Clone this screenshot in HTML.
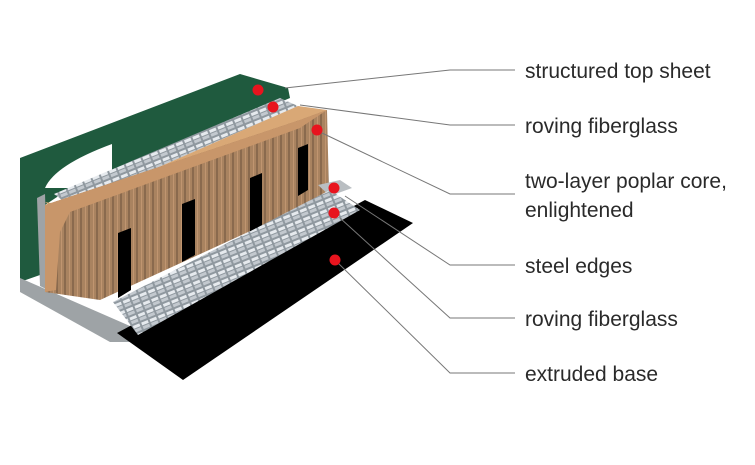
<!DOCTYPE html>
<html><head><meta charset="utf-8"><style>
html,body{margin:0;padding:0;background:#fff;}
svg{display:block}
text{font-family:"Liberation Sans Narrow","Liberation Sans",sans-serif;font-size:21px;fill:#2a2a2a}
</style></head><body>
<svg width="755" height="465" viewBox="0 0 755 465" xmlns="http://www.w3.org/2000/svg">
<defs>
<pattern id="glass" width="9" height="9" patternUnits="userSpaceOnUse" patternTransform="rotate(-22)">
<rect width="9" height="9" fill="#8f989f"/>
<rect x="1" y="1" width="7" height="3" fill="#e6eaee"/>
<rect x="1" y="5" width="7" height="3" fill="#c3c9cf"/>
</pattern>
<pattern id="wood" width="8" height="20" patternUnits="userSpaceOnUse">
<rect width="8" height="20" fill="#a98360"/>
<rect x="0" width="2" height="20" fill="#8a6a4e"/>
<rect x="5" width="1" height="20" fill="#c09570"/>
</pattern>
</defs>
<polygon points="20,158 240,74 288,88 290,98 60,195 45,205 40,275 20,282" fill="#1f5a3e"/>
<path d="M45,188 Q55,165 112,144 L112,178 L90,188 Z" fill="#fff"/>
<polygon points="20,278 130,326 130,342 110,342 20,292" fill="#9ea3a6"/>
<polygon points="37,198 45,194 48,290 40,286" fill="#9ea3a6"/>
<polygon points="117,333 365,200 413,223 183,380" fill="#000"/>
<polygon points="54,194 280,98 298,106 70,206" fill="url(#glass)"/>
<polygon points="45,202 70,206 298,106 327,110 300,122 62,214" fill="#d9a876"/>
<polygon points="45,205 300,120 327,110 329,195 100,300 45,292" fill="url(#wood)"/>
<polygon points="45,205 300,120 327,110 300,128 70,212 60,232 56,290 45,292" fill="#c8966a"/>
<polygon points="118,233 131,228 131,290 118,298" fill="#000"/>
<polygon points="182,204 195,199 195,255 182,262" fill="#000"/>
<polygon points="250,178 262,173 262,230 250,236" fill="#000"/>
<polygon points="298,148 308,144 308,190 298,196" fill="#000"/>
<polygon points="318,185 340,180 352,188 330,196" fill="#b9bec2"/>
<polygon points="113,302 330,190 360,210 138,335" fill="url(#glass)"/>
<g stroke="#777" stroke-width="1" fill="none">
<polyline points="285,88 450,70 515,70"/>
<polyline points="300,105 450,125 515,125"/>
<polyline points="322,133 450,194 515,194"/>
<polyline points="345,196 450,265 515,265"/>
<polyline points="340,218 450,318 515,318"/>
<polyline points="337,262 450,373 515,373"/>
</g>
<g fill="#e8141e">
<circle cx="258" cy="90" r="5.5"/>
<circle cx="273" cy="107" r="5.5"/>
<circle cx="317" cy="130" r="5.5"/>
<circle cx="334" cy="188" r="5.5"/>
<circle cx="334" cy="213" r="5.5"/>
<circle cx="335" cy="260" r="5.5"/>
</g>
<text x="525" y="78">structured top sheet</text>
<text x="525" y="133">roving fiberglass</text>
<text x="525" y="188">two-layer poplar core,</text>
<text x="525" y="217">enlightened</text>
<text x="525" y="273">steel edges</text>
<text x="525" y="326">roving fiberglass</text>
<text x="525" y="381">extruded base</text>
</svg>
</body></html>
